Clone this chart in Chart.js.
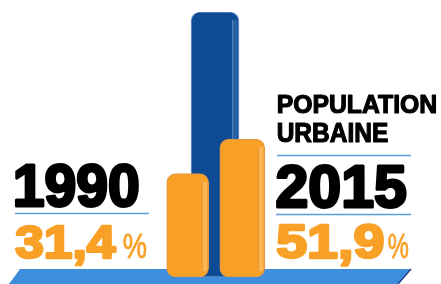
<!DOCTYPE html>
<html>
<head>
<meta charset="utf-8">
<script src="https://cdn.jsdelivr.net/npm/chart.js@4/dist/chart.umd.min.js"></script>
<style>
  html, body { margin: 0; padding: 0; background: #ffffff; }
  #wrap { width: 441px; height: 284px; position: relative; }
</style>
</head>
<body>
<div id="wrap"><canvas id="c" width="441" height="284"></canvas></div>
<script>
// ---- data ----
const categories = ['1990', 'total', '2015'];
const urban1990 = [39, null, null];     // bar height as drawn
const totalPop = [null, 100, null];     // tall blue reference bar
const urban2015 = [null, null, 52];     // bar height as drawn
const yearLabels = ['1990', '2015'];
const pctLabels = ['31,4', '51,9'];
const titleLines = ['POPULATION', 'URBAINE'];

const ORANGE = '#f9a127';
const BLUE = '#0f4b95';
const FAM = '"Liberation Sans", Arial, sans-serif';

function fitText(ctx, text, weight, left, right, top, baseline, color, sw) {
  sw = sw || 0;
  ctx.font = weight + ' 100px ' + FAM;
  const m = ctx.measureText(text);
  const size = 100 * (baseline - top - sw) / m.actualBoundingBoxAscent;
  ctx.font = weight + ' ' + size + 'px ' + FAM;
  const m2 = ctx.measureText(text);
  const inkW = m2.actualBoundingBoxLeft + m2.actualBoundingBoxRight;
  const sx = (right - left - sw) / inkW;
  ctx.save();
  ctx.translate(left + sw / 2, baseline - sw / 2);
  ctx.scale(sx, 1);
  ctx.textAlign = 'left';
  ctx.textBaseline = 'alphabetic';
  ctx.fillStyle = color;
  ctx.fillText(text, m2.actualBoundingBoxLeft, 0);
  if (sw > 0) {
    ctx.strokeStyle = color;
    ctx.lineWidth = sw;
    ctx.lineJoin = 'round';
    ctx.strokeText(text, m2.actualBoundingBoxLeft, 0);
  }
  ctx.restore();
}

function hline(ctx, x1, x2, y) {
  ctx.save();
  ctx.strokeStyle = '#5b9de0';
  ctx.lineWidth = 1.3;
  ctx.beginPath();
  ctx.moveTo(x1, y); ctx.lineTo(x2, y);
  ctx.stroke();
  ctx.restore();
}

const deco = {
  id: 'deco',
  beforeDatasetsDraw(chart) {
    const ctx = chart.ctx;
    const top = chart.chartArea.bottom - 8;
    const bot = chart.height;
    ctx.save();
    ctx.fillStyle = '#3f8edb';
    ctx.beginPath();
    ctx.moveTo(20, top);
    ctx.lineTo(411, top);
    ctx.lineTo(398, bot);
    ctx.lineTo(9, bot);
    ctx.closePath();
    ctx.fill();
    ctx.strokeStyle = '#24448f';
    ctx.lineWidth = 1.5;
    ctx.beginPath();
    ctx.moveTo(411, top);
    ctx.lineTo(398, bot);
    ctx.stroke();
    ctx.restore();
  },
  afterDatasetDraw(chart, args) {
    const ctx = chart.ctx;
    const meta = args.meta;
    const isBlue = meta.index === 2;
    meta.data.forEach((el, i) => {
      if (meta._parsed[i] == null || meta._parsed[i].y == null) return;
      const p = el.getProps(['x', 'y', 'base', 'width'], true);
      const r = p.x + p.width / 2;
      ctx.save();
      ctx.fillStyle = isBlue ? 'rgba(110,150,210,0.30)' : 'rgba(255,215,150,0.40)';
      ctx.fillRect(r - 6, p.y + 8, 4.5, p.base - p.y - 14);
      ctx.strokeStyle = isBlue ? 'rgba(140,175,225,0.55)' : 'rgba(200,140,60,0.45)';
      ctx.lineWidth = 1;
      ctx.beginPath();
      ctx.moveTo(r - 6.5, p.y + 8);
      ctx.lineTo(r - 6.5, p.base - 6);
      ctx.stroke();
      ctx.restore();
    });
  },
  afterDraw(chart) {
    const ctx = chart.ctx;
    // left block
    fitText(ctx, yearLabels[0], 'bold', 14, 139, 162, 207, '#000000', 3);
    hline(ctx, 15, 149, 213.5);
    fitText(ctx, pctLabels[0], 'bold', 15, 117, 224, 259, ORANGE, 2.6);
    fitText(ctx, '%', 'normal', 123, 147, 233, 258.5, ORANGE, 0.8);
    // right block
    fitText(ctx, titleLines[0], 'bold', 277, 437, 94, 113.5, '#000000', 1.2);
    fitText(ctx, titleLines[1], 'bold', 277, 388, 122.5, 142.5, '#000000', 1.2);
    hline(ctx, 277, 411, 155.5);
    fitText(ctx, yearLabels[1], 'bold', 276, 407, 163, 208, '#000000', 3);
    hline(ctx, 276, 411, 214.5);
    fitText(ctx, pctLabels[1], 'bold', 276, 384, 223, 259, ORANGE, 2.6);
    fitText(ctx, '%', 'normal', 388, 409, 233, 258.5, ORANGE, 0.8);
  }
};

new Chart(document.getElementById('c'), {
  type: 'bar',
  data: {
    labels: categories,
    datasets: [
      { data: urban1990, backgroundColor: ORANGE, borderColor: '#e39a45', borderWidth: 1.2,
        borderRadius: 9, borderSkipped: false, barThickness: 42, grouped: false, clip: false },
      { data: urban2015, backgroundColor: ORANGE, borderColor: '#e39a45', borderWidth: 1.2,
        borderRadius: 9, borderSkipped: false, barThickness: 45, grouped: false, clip: false },
      { data: totalPop, backgroundColor: BLUE, borderColor: '#6a90c8', borderWidth: 1.2,
        borderRadius: 9, borderSkipped: false, barThickness: 48, grouped: false, clip: false }
    ]
  },
  options: {
    responsive: false,
    devicePixelRatio: 1,
    animation: false,
    layout: { padding: { left: 174, right: 185, top: 12, bottom: 7 } },
    scales: {
      x: { display: false, offset: true },
      y: { display: false, min: 0, max: 100 }
    },
    plugins: { legend: { display: false }, tooltip: { enabled: false } }
  },
  plugins: [deco]
});
</script>
</body>
</html>
